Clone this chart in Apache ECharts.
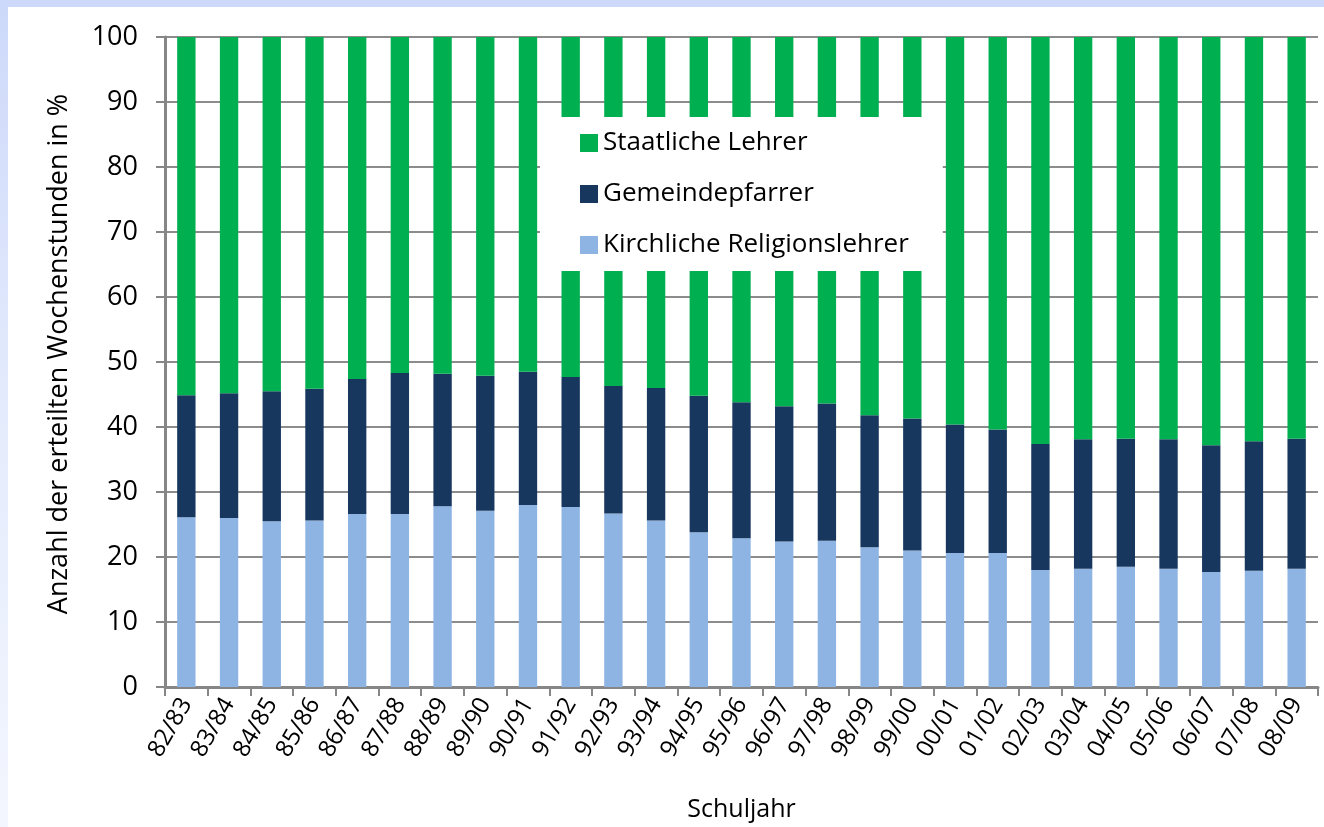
<!DOCTYPE html>
<html>
<head>
<meta charset="utf-8">
<script src="https://cdn.jsdelivr.net/npm/echarts@6/dist/echarts.min.js"></script>
<style>
  html, body { margin: 0; padding: 0; width: 1324px; height: 827px; overflow: hidden; }
  body { background: linear-gradient(to bottom, #cdd9fa 0%, #e4ebfc 50%, #f3f6fe 100%); position: relative; }
  #chart { position: absolute; left: 8px; top: 7px; width: 1316px; height: 820px; background: #ffffff; }
</style>
</head>
<body>
<div id="chart"></div>
<script>
const categories = ["82/83","83/84","84/85","85/86","86/87","87/88","88/89","89/90","90/91","91/92","92/93","93/94","94/95","95/96","96/97","97/98","98/99","99/00","00/01","01/02","02/03","03/04","04/05","05/06","06/07","07/08","08/09"];
const kirchliche = [26.1,26.0,25.5,25.6,26.6,26.6,27.8,27.1,28.0,27.7,26.7,25.6,23.8,22.9,22.4,22.5,21.5,21.0,20.6,20.6,18.0,18.2,18.5,18.2,17.7,17.9,18.2];
const gemeindepfarrer = [18.8,19.2,20.0,20.3,20.8,21.7,20.4,20.8,20.5,20.0,19.6,20.4,21.0,20.9,20.8,21.1,20.3,20.3,19.8,19.0,19.4,19.9,19.7,19.9,19.5,19.9,20.0];
const staatliche = [55.1,54.8,54.5,54.1,52.6,51.7,51.8,52.1,51.5,52.3,53.7,54.0,55.2,56.2,56.8,56.4,58.2,58.7,59.6,60.4,62.6,61.9,61.8,61.9,62.8,62.2,61.8];
const yTicks = [0,10,20,30,40,50,60,70,80,90,100];

const FONT = 'Open Sans';
const chart = echarts.init(document.getElementById('chart'));
chart.setOption({
  animation: false,
  textStyle: { fontFamily: FONT, color: '#000' },
  grid: { left: 157, top: 30, right: 6, bottom: 138 },
  legend: {
    data: ['Staatliche Lehrer', 'Gemeindepfarrer', 'Kirchliche Religionslehrer'],
    orient: 'vertical',
    left: 532, top: 110,
    backgroundColor: '#ffffff',
    padding: [13, 34, 13, 40],
    itemWidth: 18, itemHeight: 18, itemGap: 25,
    icon: 'rect',
    textStyle: { fontFamily: FONT, fontSize: 26, color: '#000', lineHeight: 24 }
  },
  xAxis: {
    type: 'category',
    data: categories,
    name: 'Schuljahr',
    nameLocation: 'middle',
    nameGap: 110,
    nameTextStyle: { fontFamily: FONT, fontSize: 25, color: '#000' },
    axisLine: { lineStyle: { color: '#868686', width: 3 } },
    axisTick: { show: true, length: 9, lineStyle: { color: '#868686', width: 2 } },
    axisLabel: { rotate: 60, fontSize: 24, color: '#000', margin: 13, fontFamily: FONT }
  },
  yAxis: {
    type: 'value',
    min: 0, max: 100, interval: 10,
    name: 'Anzahl der erteilten Wochenstunden in %',
    nameLocation: 'middle',
    nameGap: 92,
    nameTextStyle: { fontFamily: FONT, fontSize: 27, color: '#000', padding: [0, 0, 0, 16] },
    axisLine: { show: true, lineStyle: { color: '#868686', width: 3 } },
    axisTick: { show: true, length: 9, lineStyle: { color: '#868686', width: 2 } },
    axisLabel: { fontSize: 27, color: '#000', margin: 27, fontFamily: FONT,
      formatter: v => yTicks.includes(v) ? String(v) : '' },
    splitLine: { show: true, lineStyle: { color: '#8c8c8c', width: 2 } }
  },
  series: [
    { name: 'Kirchliche Religionslehrer', type: 'bar', stack: 'a', data: kirchliche,
      itemStyle: { color: '#8eb4e3' }, barCategoryGap: '57%' },
    { name: 'Gemeindepfarrer', type: 'bar', stack: 'a', data: gemeindepfarrer,
      itemStyle: { color: '#17375e' } },
    { name: 'Staatliche Lehrer', type: 'bar', stack: 'a', data: staatliche,
      itemStyle: { color: '#00b050' } }
  ]
});
</script>
</body>
</html>
